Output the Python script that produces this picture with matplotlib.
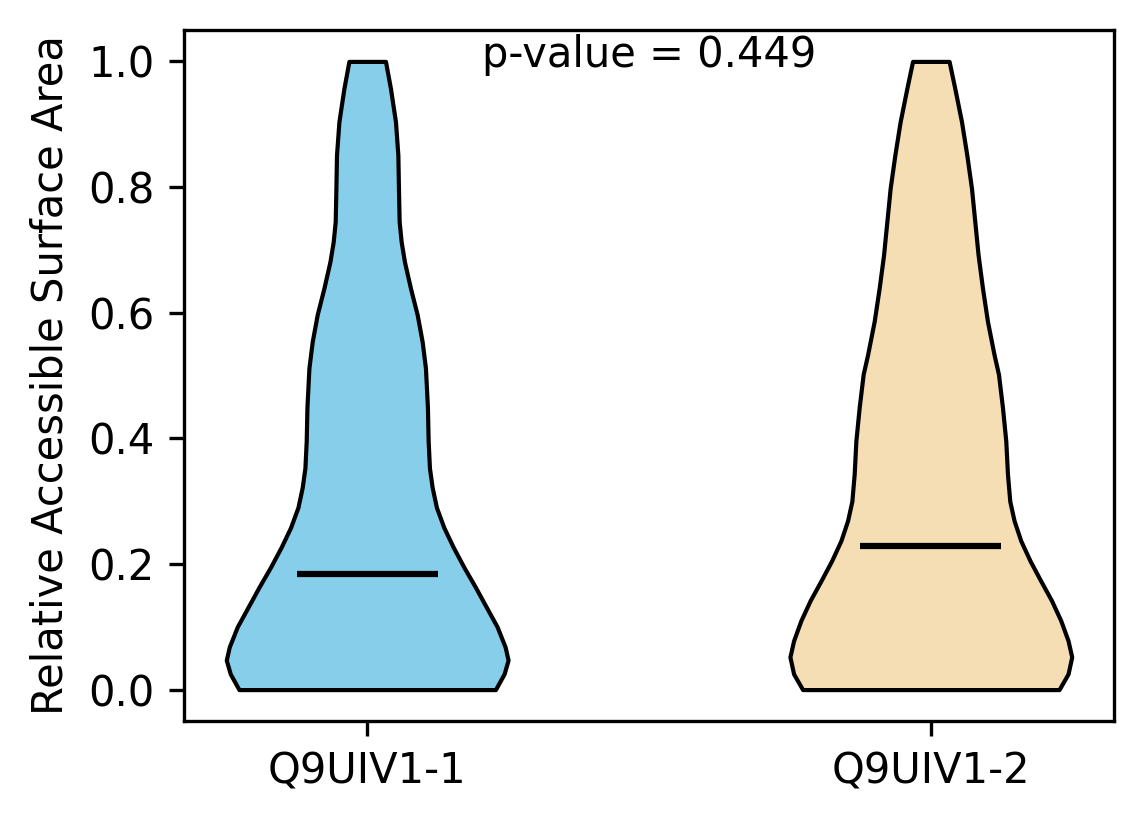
import matplotlib
matplotlib.use("Agg")
import matplotlib.pyplot as plt
import numpy as np

labels = ["Q9UIV1-1", "Q9UIV1-2"]
colors = ["#87CEEB", "#F5DEB3"]
p_text = "p-value = 0.449"

# density profile (relative half-width)
coords_1 = [1.000, 0.957, 0.904, 0.851, 0.798, 0.745, 0.713, 0.681, 0.639, 0.597,
            0.554, 0.512, 0.449, 0.396, 0.353, 0.322, 0.290, 0.258, 0.227, 0.195,
            0.163, 0.131, 0.100, 0.068, 0.047, 0.025, 0.000]
vals_1 = [18.3, 23.3, 28.3, 30.7, 31.3, 32.0, 34.0, 37.3, 43.3, 50.0,
          55.0, 58.3, 60.3, 61.0, 62.3, 65.0, 69.3, 76.7, 86.0, 96.7,
          108.3, 119.3, 130.0, 138.0, 141.0, 137.0, 128.3]
median_1 = 0.184

coords_2 = [1.000, 0.957, 0.904, 0.851, 0.798, 0.745, 0.692, 0.639, 0.586, 0.533,
            0.502, 0.449, 0.396, 0.343, 0.300, 0.269, 0.237, 0.205, 0.173, 0.142,
            0.110, 0.078, 0.052, 0.025, 0.000]
vals_2 = [18.3, 24.0, 30.7, 36.0, 40.7, 44.0, 47.3, 51.7, 56.7, 63.3,
          67.7, 71.7, 75.0, 76.7, 79.0, 83.3, 90.0, 99.3, 110.0, 120.7,
          130.0, 137.3, 141.0, 137.3, 128.3]
median_2 = 0.229

vpstats = []
for c, v, m in [(coords_1, vals_1, median_1), (coords_2, vals_2, median_2)]:
    c = np.array(c)
    vpstats.append(dict(coords=c, vals=np.array(v), mean=m, median=m,
                        min=c.min(), max=c.max()))

W, H = 1144, 824
fig = plt.figure(figsize=(W / 300, H / 300), dpi=300)
ax = fig.add_axes([184 / W, (H - 721) / H, 930 / W, 691 / H])

res = ax.violin(vpstats, positions=[1, 2], widths=0.5,
                showmeans=False, showextrema=False, showmedians=True)
for body, col in zip(res["bodies"], colors):
    body.set_facecolor(col)
    body.set_edgecolor("black")
    body.set_linewidth(1.0)
    body.set_alpha(1)
    body.set_joinstyle("round")
res["cmedians"].set_color("black")
res["cmedians"].set_linewidth(1.5)

ax.set_xticks([1, 2])
ax.set_xticklabels(labels)
ax.set_ylabel("Relative Accessible Surface Area")
ax.text(1.5, 1.01, p_text, ha="center", va="center")

fig.savefig("out.png", dpi=300)
